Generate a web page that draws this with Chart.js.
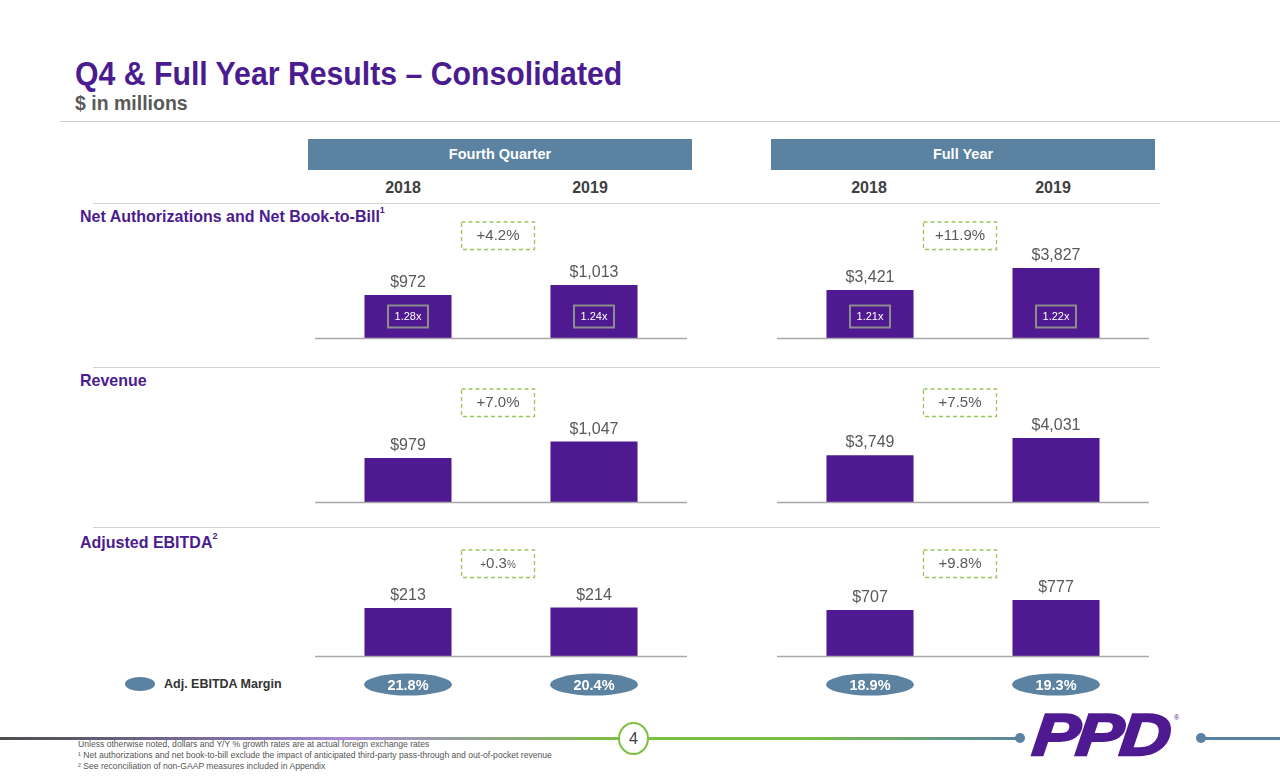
<!DOCTYPE html>
<html><head><meta charset="utf-8">
<script src="https://cdn.jsdelivr.net/npm/chart.js@4.4.1/dist/chart.umd.min.js"></script>
<style>
html,body{margin:0;padding:0;background:#fff;}
#slide{position:relative;width:1280px;height:777px;overflow:hidden;font-family:"Liberation Sans",Arial,sans-serif;background:#fff;}
.abs{position:absolute;white-space:nowrap;}
.hdr{position:absolute;height:31px;line-height:31px;background:#5b82a0;color:#fff;font-weight:bold;font-size:14.5px;text-align:center;}
.yr{position:absolute;width:120px;text-align:center;font-weight:bold;font-size:16px;color:#404040;}
.rule{position:absolute;height:1px;background:#d3d3d3;}
.rowlbl{position:absolute;font-weight:bold;font-size:16px;color:#4b1c8f;white-space:nowrap;transform-origin:0 0;transform:scaleY(1.05);}
.rowlbl sup{font-size:9px;vertical-align:8px;line-height:0;}
canvas{position:absolute;}
.fn{position:absolute;left:78px;font-size:8.6px;color:#555;white-space:nowrap;}
</style></head><body>
<div id="slide">
  <div class="abs" id="title" style="left:75px;top:54px;font-size:32px;font-weight:bold;color:#4b1c8f;transform-origin:0 0;transform:scaleX(0.945) scaleY(1.06);">Q4 &amp; Full Year Results – Consolidated</div>
  <div class="abs" style="left:75px;top:92px;font-size:19.5px;font-weight:bold;color:#595959;">$ in millions</div>
  <div class="rule" style="left:60px;top:121px;width:1220px;background:#cfcfcf;"></div>
  <div id="headers"></div>
  <div class="rule" style="left:93px;top:203px;width:1067px;"></div>
  <div class="rule" style="left:93px;top:367px;width:1067px;"></div>
  <div class="rule" style="left:93px;top:527px;width:1067px;"></div>
  <div id="rowlabels"></div>
  <div class="abs" style="left:125px;top:677px;width:30px;height:14px;border-radius:50%;background:#5b82a0;"></div>
  <div class="abs" style="left:164px;top:677px;font-size:12.5px;font-weight:bold;color:#333;">Adj. EBITDA Margin</div>

  <!-- footer -->
  <div class="abs" style="left:0;top:737px;width:620px;height:3px;background:linear-gradient(to right,#4d4d4d 0%,#8a78b8 45%,#a889d8 55%,#7cc142 100%);"></div>
  <div class="abs" style="left:646px;top:737px;width:376px;height:3px;background:linear-gradient(to right,#7cc142 0%,#7cc142 40%,#5b82a0 100%);"></div>
  <div class="abs" style="left:618px;top:722px;width:27px;height:29px;border:2.5px solid #7cc142;border-radius:50%;background:#fff;text-align:center;line-height:29px;font-size:16px;color:#404040;">4</div>
  <div class="abs" style="left:1015px;top:733px;width:10px;height:10px;border-radius:50%;background:#5b82a0;"></div>
  <div class="abs" style="left:1196px;top:733px;width:10px;height:10px;border-radius:50%;background:#5b82a0;"></div>
  <div class="abs" style="left:1200px;top:737px;width:80px;height:3px;background:#5b82a0;"></div>
  <div class="abs" style="left:1030px;top:700px;font-size:64px;line-height:64px;font-weight:900;font-style:italic;color:#4f1a91;letter-spacing:-3px;-webkit-text-stroke:2.5px #4f1a91;transform-origin:0 100%;transform:skewX(-6deg) scaleX(1.1) scaleY(0.92);">PPD</div>
  <div class="abs" style="left:1174px;top:714px;font-size:7px;color:#4f1a91;">®</div>
  <div class="fn" style="top:739px;">Unless otherwise noted, dollars and Y/Y % growth rates are at actual foreign exchange rates</div>
  <div class="fn" style="top:750px;">¹ Net authorizations and net book-to-bill exclude the impact of anticipated third-party pass-through and out-of-pocket revenue</div>
  <div class="fn" style="top:761px;">² See reconciliation of non-GAAP measures included in Appendix</div>
</div>
<script>
// ---------- data ----------
const periods = ['Fourth Quarter', 'Full Year'];
const years = ['2018', '2019'];
const metrics = ['Net Authorizations and Net Book-to-Bill', 'Revenue', 'Adjusted EBITDA'];
const metricNotes = ['1', '', '2'];

const netAuthQ4 = [972, 1013];
const netAuthFY = [3421, 3827];
const revenueQ4 = [979, 1047];
const revenueFY = [3749, 4031];
const ebitdaQ4 = [213, 214];
const ebitdaFY = [707, 777];

const bookToBillQ4 = [1.28, 1.24];
const bookToBillFY = [1.21, 1.22];

const growthQ4 = [4.2, 7.0, 0.3];
const growthFY = [11.9, 7.5, 9.8];

const marginQ4 = [21.8, 20.4];
const marginFY = [18.9, 19.3];

// ---------- layout ----------
const panelLeft = [315, 777];
const panelWidth = 372;
const rowTop = [210, 377, 538];
const rowPlotH = [128, 125, 118];
const yRange = [ // [min,max] for [Q4, FY] per row (visual scaling of the slide)
  [[796, 1320], [2535, 4897]],
  [[798, 1313], [2988, 5025]],
  [[117, 353], [385, 1211]]
];

const slide = document.getElementById('slide');

// headers
const hdr = document.getElementById('headers');
const yearX = [[403, 590], [869, 1053]];
periods.forEach((p, i) => {
  const d = document.createElement('div');
  d.className = 'hdr';
  d.style.left = (i === 0 ? 308 : 771) + 'px';
  d.style.top = '139px';
  d.style.width = '384px';
  d.textContent = p;
  hdr.appendChild(d);
  years.forEach((y, j) => {
    const e = document.createElement('div');
    e.className = 'yr';
    e.style.left = (yearX[i][j] - 60) + 'px';
    e.style.top = '179px';
    e.textContent = y;
    hdr.appendChild(e);
  });
});
// row labels
const rl = document.getElementById('rowlabels');
const rowLblTop = [207, 371, 533];
metrics.forEach((m, i) => {
  const d = document.createElement('div');
  d.className = 'rowlbl';
  d.style.left = '80px';
  d.style.top = rowLblTop[i] + 'px';
  d.innerHTML = m + (metricNotes[i] ? '<sup>' + metricNotes[i] + '</sup>' : '');
  rl.appendChild(d);
});

const fmtMoney = v => '$' + v.toLocaleString('en-US');

const slidePlugin = {
  id: 'slideDeco',
  afterDatasetsDraw(chart, args, opts) {
    const ctx = chart.ctx;
    const ca = chart.chartArea;
    const meta = chart.getDatasetMeta(0);
    ctx.save();
    // baseline
    ctx.strokeStyle = '#a8a8a8';
    ctx.lineWidth = 1.5;
    ctx.beginPath();
    ctx.moveTo(ca.left, ca.bottom + 0.5);
    ctx.lineTo(ca.right, ca.bottom + 0.5);
    ctx.stroke();
    // value labels
    ctx.fillStyle = '#595959';
    ctx.font = '16px "Liberation Sans", Arial, sans-serif';
    ctx.textAlign = 'center';
    ctx.textBaseline = 'alphabetic';
    meta.data.forEach((bar, i) => {
      ctx.fillText(fmtMoney(chart.data.datasets[0].data[i]), bar.x, bar.y - 8);
    });
    // book-to-bill boxes
    if (opts.btb) {
      meta.data.forEach((bar, i) => {
        const cy = ca.bottom - 21.5;
        ctx.strokeStyle = '#8c8c8c';
        ctx.lineWidth = 2;
        ctx.strokeRect(bar.x - 20, cy - 11, 40, 22);
        ctx.fillStyle = '#ffffff';
        ctx.font = '11px "Liberation Sans", Arial, sans-serif';
        ctx.textBaseline = 'middle';
        ctx.fillText(opts.btb[i].toFixed(2) + 'x', bar.x, cy + 0.5);
      });
    }
    // growth box
    const gx = (meta.data[0].x + meta.data[1].x) / 2 - 3;
    const gy = ca.top + 12;
    ctx.setLineDash([4, 3]);
    ctx.strokeStyle = '#9cc65c';
    ctx.lineWidth = 1.3;
    ctx.strokeRect(gx - 36.5, gy, 73, 27.5);
    ctx.setLineDash([]);
    ctx.fillStyle = '#595959';
    ctx.textBaseline = 'middle';
    ctx.textAlign = 'center';
    if (opts.smallAffix) {
      const num = opts.growth.toFixed(1);
      ctx.font = '15px "Liberation Sans", Arial, sans-serif';
      const wn = ctx.measureText(num).width;
      ctx.font = '10px "Liberation Sans", Arial, sans-serif';
      const wp = ctx.measureText('+').width, wpc = ctx.measureText('%').width;
      let x = gx - (wn + wp + wpc) / 2;
      ctx.textAlign = 'left';
      ctx.fillText('+', x, gy + 15); x += wp;
      ctx.font = '15px "Liberation Sans", Arial, sans-serif';
      ctx.fillText(num, x, gy + 14); x += wn;
      ctx.font = '10px "Liberation Sans", Arial, sans-serif';
      ctx.fillText('%', x, gy + 15);
    } else {
      ctx.font = '15px "Liberation Sans", Arial, sans-serif';
      ctx.fillText('+' + opts.growth.toFixed(1) + '%', gx, gy + 14);
    }
    // margin ellipses
    if (opts.margin) {
      meta.data.forEach((bar, i) => {
        const cy = ca.bottom + 28.5;
        ctx.fillStyle = '#5b82a0';
        ctx.beginPath();
        ctx.ellipse(bar.x, cy, 44, 11, 0, 0, Math.PI * 2);
        ctx.fill();
        ctx.fillStyle = '#ffffff';
        ctx.font = 'bold 14.5px "Liberation Sans", Arial, sans-serif';
        ctx.textAlign = 'center';
        ctx.textBaseline = 'middle';
        ctx.fillText(opts.margin[i].toFixed(1) + '%', bar.x, cy + 1);
      });
    }
    ctx.restore();
  }
};

const panels = [
  { row: 0, col: 0, values: netAuthQ4, btb: bookToBillQ4, growth: growthQ4[0] },
  { row: 0, col: 1, values: netAuthFY, btb: bookToBillFY, growth: growthFY[0] },
  { row: 1, col: 0, values: revenueQ4, growth: growthQ4[1] },
  { row: 1, col: 1, values: revenueFY, growth: growthFY[1] },
  { row: 2, col: 0, values: ebitdaQ4, growth: growthQ4[2], margin: marginQ4, smallAffix: true },
  { row: 2, col: 1, values: ebitdaFY, growth: growthFY[2], margin: marginFY }
];

panels.forEach(p => {
  const extra = p.margin ? 45 : 4;
  const h = rowPlotH[p.row] + extra;
  const c = document.createElement('canvas');
  c.width = panelWidth; c.height = h;
  c.style.left = panelLeft[p.col] + 'px';
  c.style.top = rowTop[p.row] + 'px';
  c.style.width = panelWidth + 'px';
  c.style.height = h + 'px';
  slide.appendChild(c);
  const r = yRange[p.row][p.col];
  new Chart(c, {
    type: 'bar',
    data: {
      labels: years,
      datasets: [{ data: p.values, backgroundColor: '#4f1a91', borderWidth: 0,
                   barPercentage: 0.468, categoryPercentage: 1.0 }]
    },
    options: {
      responsive: false,
      animation: false,
      devicePixelRatio: 1,
      layout: { padding: { top: 0, left: 0, right: 0, bottom: extra } },
      scales: {
        x: { display: false, offset: true },
        y: { display: false, min: r[0], max: r[1] }
      },
      plugins: {
        legend: { display: false },
        tooltip: { enabled: false },
        slideDeco: { btb: p.btb, growth: p.growth, margin: p.margin, smallAffix: p.smallAffix }
      }
    },
    plugins: [slidePlugin]
  });
});
</script>
</body></html>
